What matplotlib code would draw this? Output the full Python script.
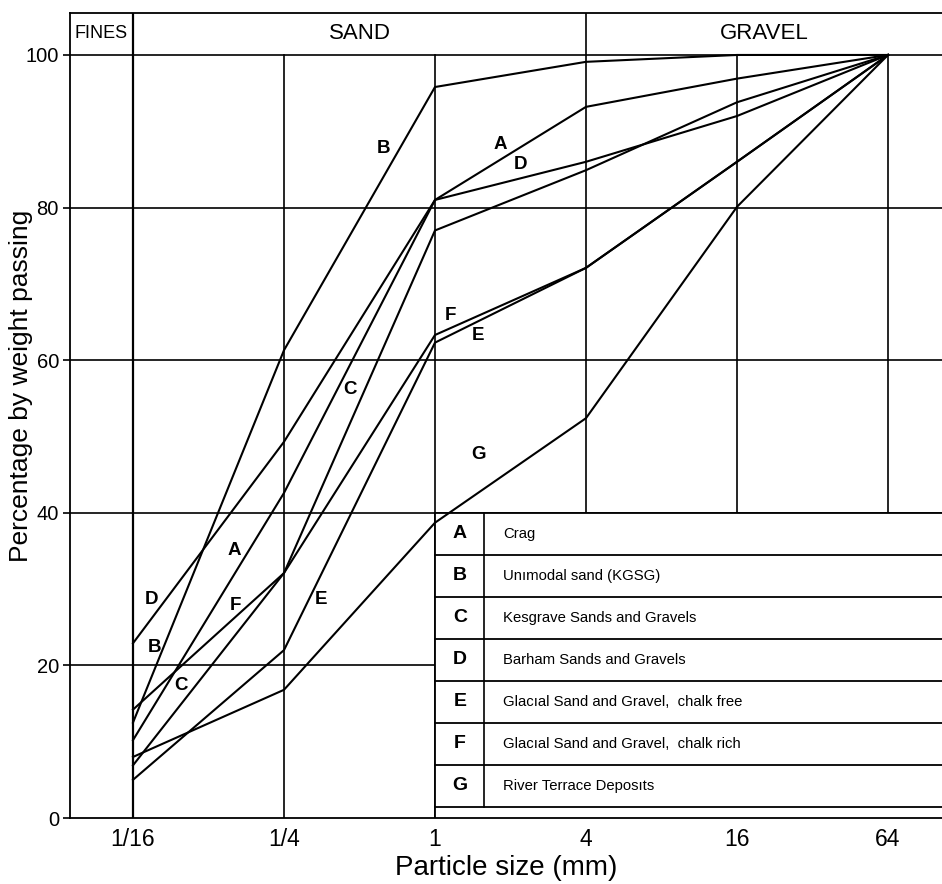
import numpy as np
import matplotlib
matplotlib.use("Agg")
import matplotlib.pyplot as plt
from matplotlib.patches import Rectangle

# ---------------- data ----------------
sizes = [1/16, 1/4, 1, 4, 16, 64]
size_labels = ["1/16", "1/4", "1", "4", "16", "64"]

curve_A = [10.2, 42.6, 81.0, 93.2, 96.9, 100]
curve_B = [12.5, 61.3, 95.8, 99.1, 100, 100]
curve_C = [6.9, 32.1, 77.0, 84.9, 93.8, 100]
curve_D = [22.9, 49.3, 81.0, 86.0, 92.0, 100]
curve_E = [5.0, 22.0, 62.3, 72.1, 86.0, 100]
curve_F = [14.2, 32.1, 63.3, 72.1, 86.0, 100]
curve_G = [8.0, 16.8, 38.7, 52.4, 80.1, 100]
curves = {"A": curve_A, "B": curve_B, "C": curve_C, "D": curve_D,
          "E": curve_E, "F": curve_F, "G": curve_G}

legend_letters = ["A", "B", "C", "D", "E", "F", "G"]
legend_names = ["Crag", "Unımodal sand (KGSG)", "Kesgrave Sands and Gravels",
                "Barham Sands and Gravels", "Glacıal Sand and Gravel,  chalk free",
                "Glacıal Sand and Gravel,  chalk rich", "River Terrace Deposıts"]

# in-plot curve labels: letter, log2(size), percent
label_letters = ["D", "B", "C", "A", "F", "E", "C", "B", "G", "A", "D", "F", "E"]
label_log2x = [-3.75, -3.72, -3.36, -2.66, -2.64, -1.51, -1.12, -0.68, 0.57, 0.86, 1.13, 0.20, 0.57]
label_pct = [28.6, 22.3, 17.4, 35.0, 27.9, 28.6, 56.1, 87.8, 47.6, 88.3, 85.6, 65.8, 63.3]

header_names = ["FINES", "SAND", "GRAVEL"]

# ---------------- figure ----------------
W, H = 942, 884
fig = plt.figure(figsize=(W/100, H/100), dpi=100)
ax = fig.add_axes([70/W, (H-818)/H, 1-70/W, (818-13)/H])
ax.set_xscale("log", base=2)
xmin, xmax = 2**-4.834, 2**6.715
ymax = 105.5
ax.set_xlim(xmin, xmax)
ax.set_ylim(0, ymax)

sans = ["Liberation Sans", "DejaVu Sans"]
lw_grid = 1.2
k = "black"

# grid
for yv in [20, 40, 60, 80, 100]:
    ax.plot([xmin, xmax], [yv, yv], color=k, lw=lw_grid, zorder=1)
for s in sizes:
    top = ymax if s in (1/16, 4) else 100
    ax.plot([s, s], [0, top], color=k, lw=lw_grid if s != 1/16 else 1.6, zorder=1)

# table (legend)
row_top = 40
row_h = 5.5
col_split = 2**0.645
text_x = 2**0.9
letter_x = 2**0.33
nrows = len(legend_letters)
table_bottom = row_top - nrows*row_h
ax.add_patch(Rectangle((1, 0), xmax-1, row_top, facecolor="white", edgecolor="none", zorder=2))
for r in range(nrows+1):
    yv = row_top - r*row_h
    ax.plot([1, xmax], [yv, yv], color=k, lw=1.3, zorder=3)
ax.plot([1, 1], [0, row_top], color=k, lw=1.3, zorder=3)
ax.plot([col_split, col_split], [table_bottom, row_top], color=k, lw=1.2, zorder=3)
for r, (let, name) in enumerate(zip(legend_letters, legend_names)):
    yc = row_top - (r+0.5)*row_h
    ax.text(letter_x, yc, let, ha="center", va="center", fontsize=14,
            fontweight="bold", family=sans, zorder=5)
    ax.text(text_x, yc, name, ha="left", va="center", fontsize=10.7,
            family=sans, zorder=5)

# curves
for name, vals in curves.items():
    ax.plot(sizes, vals, color=k, lw=1.5, zorder=4, solid_joinstyle="miter")

for let, lx, py in zip(label_letters, label_log2x, label_pct):
    ax.text(2**lx, py, let, ha="center", va="center", fontsize=13.5,
            fontweight="bold", family=sans, zorder=5)

# header
ax.text(np.sqrt(xmin*(1/16)), 102.75, header_names[0], ha="center", va="center",
        fontsize=13, family=sans)
ax.text(np.sqrt((1/16)*4), 102.75, header_names[1], ha="center", va="center",
        fontsize=16, family=sans)
ax.text(np.sqrt(4*xmax), 102.75, header_names[2], ha="center", va="center",
        fontsize=16, family=sans)

# spines / ticks
ax.spines["right"].set_visible(False)
for sp in ["left", "bottom", "top"]:
    ax.spines[sp].set_linewidth(1.3)
ax.set_yticks([0, 20, 40, 60, 80, 100])
ax.set_yticklabels(["0", "20", "40", "60", "80", "100"], fontsize=14.5, family=sans)
ax.tick_params(axis="y", direction="out", length=5, width=1.2, pad=3)
ax.set_xticks(sizes)
ax.set_xticklabels(size_labels, fontsize=16.5, family=sans)
ax.xaxis.set_minor_locator(matplotlib.ticker.NullLocator())
ax.tick_params(axis="x", length=0, pad=7)

ax.set_xlabel("Particle size (mm)", fontsize=20, family=sans, labelpad=3)
fig.text(21/W, 1-386/H, "Percentage by weight passing", rotation=90, ha="center",
         va="center", fontsize=19, family=sans)

fig.savefig("out.png", dpi=100)
